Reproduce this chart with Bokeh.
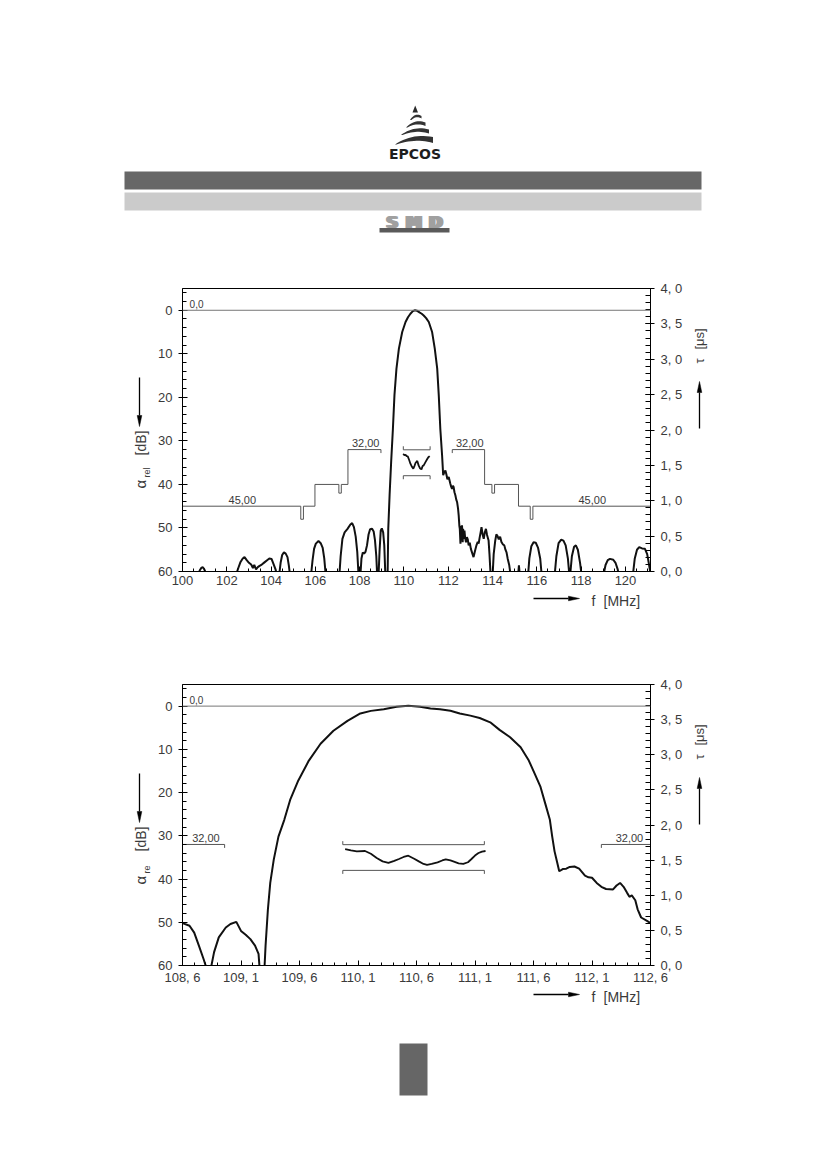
from math import pi
import numpy as np
from bokeh.plotting import figure
from bokeh.layouts import column, row
from bokeh.models import (Range1d, LinearAxis, FixedTicker, CustomJSTickFormatter,
                          Label, Span)
from bokeh.embed import file_html
from bokeh.resources import INLINE
from bokeh.core.properties import value

FONT = "Liberation Sans"
TXT = "#3a3a3a"

# ---------------- data ----------------
# wide-band attenuation (top chart), f in MHz, attenuation in dB (61 = below scale)
top_f = [100.70, 100.78, 100.86, 100.92, 100.98, 101.05, 101.12, 102.40, 102.52, 102.62,
         102.72, 102.80, 102.90, 103.00, 103.10, 103.18, 103.24, 103.32, 103.40, 103.48,
         103.58, 103.70, 103.82, 103.92, 104.02, 104.12, 104.20, 104.27, 104.36, 104.43,
         104.50, 104.58, 104.66, 104.74, 104.80, 104.86, 105.80, 105.87, 105.94, 106.02,
         106.14, 106.24, 106.33, 106.40, 106.47, 107.08, 107.14, 107.22, 107.32, 107.45,
         107.58, 107.66, 107.74, 107.82, 107.89, 107.95, 108.03, 108.08, 108.14, 108.20,
         108.26, 108.33, 108.40, 108.47, 108.56, 108.63, 108.69, 108.75, 108.79, 108.85,
         108.90, 108.95, 109.00, 109.06, 109.11, 109.16, 109.26, 109.29, 109.35, 109.42,
         109.50, 109.57, 109.66, 109.77, 109.92, 110.07, 110.18, 110.29, 110.40, 110.50,
         110.58, 110.70, 110.80, 110.89, 111.00, 111.12, 111.27, 111.39, 111.50, 111.57,
         111.64, 111.72, 111.77, 111.82, 111.87, 111.91, 111.96, 112.02, 112.09, 112.13,
         112.17, 112.21, 112.24, 112.28, 112.32, 112.36, 112.40, 112.44, 112.47, 112.50,
         112.52, 112.55, 112.58, 112.60, 112.62, 112.65, 112.67, 112.70, 112.73, 112.76,
         112.80, 112.84, 112.88, 112.92, 112.97, 113.02, 113.07, 113.14, 113.20, 113.27,
         113.33, 113.37, 113.42, 113.46, 113.50, 113.55, 113.60, 113.65, 113.70, 113.75,
         113.82, 113.86, 113.90, 113.93, 114.00, 114.05, 114.12, 114.17, 114.22, 114.28,
         114.34, 114.40, 114.47, 114.53, 114.58, 114.63, 114.68, 114.75, 114.82, 115.15,
         115.19, 115.23, 115.60, 115.66, 115.75, 115.85, 115.95, 116.05, 116.15, 116.22,
         116.80, 116.88, 116.98, 117.10, 117.20, 117.30, 117.40, 117.47, 117.50, 117.58,
         117.68, 117.76, 117.85, 117.95, 118.02, 119.00, 119.10, 119.20, 119.30, 119.45,
         119.55, 119.65, 119.70, 120.33, 120.42, 120.52, 120.62, 120.75, 120.88, 120.98,
         121.05, 121.13]
top_db = [61, 59.7, 59.1, 59.0, 59.5, 60.2, 61, 61, 59.2, 57.8,
          57.0, 56.7, 57.4, 58.0, 58.4, 59.2, 58.5, 59.5, 59.0, 58.7,
          58.4, 57.9, 57.4, 57.0, 57.1, 58.4, 59.5, 61, 61, 58.0,
          56.2, 55.6, 55.9, 56.7, 58.6, 61, 61, 57.5, 54.8, 53.6,
          53.0, 53.5, 54.6, 57.0, 61, 61, 56.5, 52.5, 51.0, 50.2,
          49.2, 48.9, 49.8, 52.0, 55.5, 61, 61, 57.0, 55.6, 55.9,
          55.5, 54.0, 51.5, 50.3, 50.2, 50.8, 52.8, 56.5, 61, 61,
          55.0, 50.6, 50.1, 51.0, 54.0, 61, 61, 50.2, 42.5, 34.9,
          27.2, 19.5, 13.4, 8.8, 5.0, 2.7, 1.6, 0.8, 0.2, 0.0,
          0.1, 0.5, 0.8, 1.2, 1.8, 2.7, 5.0, 8.8, 13.4, 19.5,
          27.2, 33.3, 37.9, 37.2, 36.8, 37.6, 38.8, 38.3, 39.8, 40.5,
          41.0, 40.3, 40.6, 41.8, 42.5, 43.5, 44.1, 45.5, 47.1, 49.5,
          50.2, 53.6, 49.5, 52.0, 49.4, 53.3, 50.2, 52.5, 50.6, 52.2,
          53.3, 52.1, 52.6, 54.0, 53.4, 54.8, 55.6, 56.7, 55.4, 54.0,
          53.2, 53.6, 52.1, 51.0, 49.8, 51.5, 52.5, 51.0, 50.2, 51.6,
          52.9, 56.0, 59.8, 61, 61, 56.0, 52.9, 51.5, 51.8, 52.6,
          52.0, 53.2, 53.8, 54.0, 55.0, 55.6, 57.0, 58.5, 61, 61,
          58.6, 61, 61, 57.0, 54.2, 53.3, 53.4, 54.5, 57.0, 61,
          61, 56.5, 53.5, 52.7, 52.9, 54.0, 57.0, 61, 61, 56.5,
          54.3, 54.0, 55.0, 58.0, 61, 61, 58.5, 57.4, 57.1, 57.3,
          58.0, 59.5, 61, 61, 57.0, 55.0, 54.4, 54.7, 54.8, 56.0,
          58.0, 60.5]

# narrow-band attenuation (bottom chart)
bot_f = [108.60, 108.66, 108.70, 108.74, 108.78, 108.81, 108.84, 108.87, 108.91, 108.97,
         109.01, 109.06, 109.10, 109.14, 109.18, 109.22, 109.25, 109.26, 109.30, 109.31,
         109.33, 109.35, 109.38, 109.42, 109.47, 109.52, 109.59, 109.68, 109.78, 109.89,
         110.01, 110.12, 110.21, 110.32, 110.43, 110.53, 110.63, 110.72, 110.80, 110.89,
         110.97, 111.06, 111.14, 111.23, 111.31, 111.40, 111.49, 111.56, 111.61, 111.66,
         111.70, 111.74, 111.76, 111.78, 111.80, 111.82, 111.85, 111.88, 111.91, 111.95,
         111.99, 112.04, 112.07, 112.10, 112.14, 112.18, 112.22, 112.28, 112.31, 112.34,
         112.37, 112.40, 112.42, 112.44, 112.47, 112.49, 112.52, 112.57, 112.60]
bot_db = [50.2, 50.8, 52.4, 55.4, 58.5, 61, 61, 56.9, 53.5, 51.2,
          50.4, 49.9, 52.0, 52.9, 53.9, 55.4, 57.3, 61, 61, 55.4,
          47.0, 40.9, 35.5, 30.2, 26.3, 21.7, 17.2, 12.6, 8.7, 5.7,
          3.4, 1.7, 1.1, 0.7, 0.16, -0.1, 0.16, 0.55, 0.7, 1.08,
          1.7, 2.2, 2.75, 3.75, 5.5, 7.2, 9.5, 12.6, 15.6, 18.7,
          22.5, 26.3, 30.2, 33.6, 35.9, 38.2, 37.7, 37.6, 37.2, 37.1,
          37.6, 39.2, 39.6, 39.7, 40.9, 41.8, 42.3, 42.4, 41.5, 40.9,
          41.8, 43.2, 44.1, 43.8, 44.9, 47.0, 48.9, 49.7, 50.2]

# group delay (right axis, microseconds)
gd_top_f = [109.96, 110.02, 110.07, 110.12, 110.17, 110.23, 110.29, 110.36, 110.42, 110.47,
            110.52, 110.60, 110.66, 110.72, 110.79, 110.84, 110.89, 110.97, 111.05, 111.10,
            111.16]
gd_top_tau = [1.660, 1.645, 1.650, 1.630, 1.627, 1.580, 1.524, 1.480, 1.453, 1.490,
              1.533, 1.563, 1.500, 1.460, 1.443, 1.490, 1.500, 1.546, 1.590, 1.615,
              1.631]
gd_bot_f = [109.99, 110.04, 110.09, 110.16, 110.21, 110.26, 110.31, 110.36, 110.41, 110.45,
            110.49, 110.53, 110.58, 110.62, 110.66, 110.69, 110.73, 110.78, 110.82, 110.85,
            110.89, 110.92, 110.96, 111.00, 111.04, 111.07, 111.10, 111.13, 111.16, 111.19]
gd_bot_tau = [1.657, 1.640, 1.624, 1.630, 1.590, 1.530, 1.482, 1.460, 1.490, 1.516,
              1.545, 1.563, 1.520, 1.482, 1.445, 1.431, 1.445, 1.468, 1.495, 1.511,
              1.495, 1.478, 1.455, 1.446, 1.470, 1.516, 1.565, 1.601, 1.622, 1.630]
gd_win_f = [109.97, 111.18]          # group-delay tolerance window
gd_win_tau = [1.354, 1.72]

# attenuation tolerance mask (dB)
mask_l_f = [99.0, 105.34, 105.34, 105.46, 105.46, 105.98, 105.98, 107.06, 107.06, 107.17,
            107.17, 107.47, 107.47, 108.96, 108.96]
mask_l_db = [45, 45, 48, 48, 45, 45, 40, 40, 42, 42, 40, 40, 32, 32, 32.8]
mask_r_f = [112.18, 112.18, 113.64, 113.64, 113.97, 113.97, 114.09, 114.09, 115.17, 115.17,
            115.70, 115.70, 115.82, 115.82, 122.0]
mask_r_db = [32.8, 32, 32, 40, 40, 42, 42, 40, 40, 45, 45, 48, 48, 45, 45]
ref_level = 0.0

# tick values / labels
top_xticks = [100, 102, 104, 106, 108, 110, 112, 114, 116, 118, 120]
top_xminor = [100 + 0.5 * i for i in range(43)]
bot_xticks = [108.6, 109.1, 109.6, 110.1, 110.6, 111.1, 111.6, 112.1, 112.6]
bot_xminor = [round(108.6 + 0.1 * i, 2) for i in range(41)]
db_ticks = [0, 10, 20, 30, 40, 50, 60]
db_minor = [-4 + 2 * i for i in range(33)]
tau_ticks = [0, 0.5, 1.0, 1.5, 2.0, 2.5, 3.0, 3.5, 4.0]
tau_minor = [round(0.1 * i, 2) for i in range(41)]

top_mask_labels = [("0,0", 100.32, -0.6, "left", 10), ("45,00", 102.7, 44.5, "center", 11),
                   ("32,00", 108.27, 31.5, "center", 11), ("32,00", 112.97, 31.5, "center", 11),
                   ("45,00", 118.5, 44.5, "center", 11)]
bot_mask_labels = [("0,0", 108.66, -0.6, "left", 10), ("32,00", 108.8, 31.5, "center", 11),
                   ("32,00", 112.42, 31.5, "center", 11)]

# ---------------- layout (page pixels) ----------------
PW = 820                 # page width used
FL, FR = 182, 650        # plot frame left / right
SL, SR = 152, 688        # split between side figures and chart figure


def blank_fig(x0, x1, y0, y1):
    f = figure(width=x1 - x0, height=y1 - y0, x_range=Range1d(x0, x1), y_range=Range1d(y1, y0),
               output_backend="svg", toolbar_location=None, min_border=0)
    f.frame_align = False
    f.title.visible = False
    f.axis.visible = False
    f.grid.visible = False
    f.outline_line_color = None
    f.background_fill_color = "white"
    f.border_fill_color = "white"
    return f


def style_axis(ax, tin, tout, minin, standoff):
    ax.axis_line_color = "black"
    ax.axis_line_width = 1
    ax.major_tick_line_color = "black"
    ax.minor_tick_line_color = "black"
    ax.major_tick_in = tin
    ax.major_tick_out = tout
    ax.minor_tick_in = minin
    ax.minor_tick_out = 0
    ax.major_label_text_font = FONT
    ax.major_label_text_font_size = "13px"
    ax.major_label_text_color = TXT
    ax.major_label_standoff = standoff


def txt(f, x, y, s, size, angle=0.0, align="left"):
    f.text(x=[x], y=[y], text=[s], angle=angle, text_align=align, text_baseline="middle",
           text_font=value(FONT), text_font_size=f"{size}px", text_color=TXT)


def arrow(f, x0, y0, x1, y1, head_len=11.0, head_w=4.6):
    if x0 == x1:
        d = 1 if y1 > y0 else -1
        hy = y1 - d * head_len
        f.segment(x0=[x0], y0=[y0], x1=[x1], y1=[hy], line_color="black", line_width=1.3)
        f.patch([x1, x1 - head_w / 2, x1 + head_w / 2], [y1, hy, hy],
                fill_color="black", line_color="black", line_width=0.5)
    else:
        d = 1 if x1 > x0 else -1
        hx = x1 - d * head_len
        f.segment(x0=[x0], y0=[y0], x1=[hx], y1=[y1], line_color="black", line_width=1.3)
        f.patch([x1, hx, hx], [y1, y1 - head_w / 2, y1 + head_w / 2],
                fill_color="black", line_color="black", line_width=0.5)


def make_block(row_top, frame_top, strip_bottom, xr, xticks, xminor, comma_x,
               att_f, att_db, gd_f, gd_tau, mask_labels, sub):
    frame_bottom = frame_top + 283
    row_bottom = frame_bottom + 20
    H = row_bottom - row_top
    p = figure(width=SR - SL, height=H, x_range=Range1d(*xr), y_range=Range1d(60, -5),
               output_backend="svg", toolbar_location=None,
               min_border_left=FL - SL, min_border_right=SR - FR,
               min_border_top=frame_top - row_top, min_border_bottom=row_bottom - frame_bottom)
    p.frame_align = False
    p.title.visible = False
    p.extra_y_ranges = {"tau": Range1d(0, 4)}
    p.grid.visible = False
    p.outline_line_color = "black"
    p.outline_line_width = 1
    p.outline_line_alpha = 1
    p.background_fill_color = "white"
    p.border_fill_color = "white"

    xa = p.xaxis[0]
    xa.ticker = FixedTicker(ticks=xticks, minor_ticks=xminor)
    if comma_x:
        xa.formatter = CustomJSTickFormatter(code="return tick.toFixed(1).replace('.', ', ');")
    style_axis(xa, 5, 0, 3, 4)

    ya = p.yaxis[0]
    ya.ticker = FixedTicker(ticks=db_ticks, minor_ticks=db_minor)
    style_axis(ya, 5, 4, 4, 6)

    ra = LinearAxis(y_range_name="tau", ticker=FixedTicker(ticks=tau_ticks, minor_ticks=tau_minor),
                    formatter=CustomJSTickFormatter(code="return tick.toFixed(1).replace('.', ', ');"))
    style_axis(ra, 5, 4, 5, 6)
    p.add_layout(ra, "right")

    # reference level and tolerance mask
    p.add_layout(Span(location=ref_level, dimension="width", line_color="#777777", line_width=1))
    p.line(mask_l_f, mask_l_db, line_color="#555555", line_width=1)
    p.line(mask_r_f, mask_r_db, line_color="#555555", line_width=1)
    for text, fx, fy, al, sz in mask_labels:
        p.add_layout(Label(x=fx, y=fy, text=text, text_align=al, text_baseline="bottom",
                           text_font=FONT, text_font_size=f"{sz}px", text_color=TXT))

    # group-delay window brackets
    hooks = [-0.05, 0.05]
    for tv, hk in zip(gd_win_tau, hooks):
        p.line([gd_win_f[0], gd_win_f[0], gd_win_f[1], gd_win_f[1]],
               [tv + hk, tv, tv, tv + hk], y_range_name="tau",
               line_color="#555555", line_width=1)
    p.line(gd_f, gd_tau, y_range_name="tau", line_color="#111111", line_width=1.8)
    p.line(att_f, att_db, line_color="#111111", line_width=2)

    # side figures with axis titles
    o = frame_top - 288
    L = blank_fig(0, SL, row_top, row_bottom)
    arrow(L, 139, 377 + o, 139, 426 + o)
    txt(L, 140, 488 + o, "α", 15, angle=pi / 2)
    txt(L, 146, 477 + o, sub, 9, angle=pi / 2)
    txt(L, 140, 455 + o, "[dB]", 14, angle=pi / 2)

    R = blank_fig(SR, PW, row_top, row_bottom)
    arrow(R, 699, 428 + o, 699, 381 + o)
    txt(R, 699, 363 + o, "τ", 13, angle=pi / 2)
    txt(R, 699, 349 + o, "[μs]", 13, angle=pi / 2)

    S = blank_fig(0, PW, row_bottom, strip_bottom)
    ty = row_bottom + 9
    arrow(S, 533, ty - 2, 579, ty - 2)
    txt(S, 593, ty, "f", 14, align="center")
    txt(S, 603, ty, "[MHz]", 14)

    return column(row(L, p, R, spacing=0), S, spacing=0)


# ---------------- header ----------------
hdr = blank_fig(0, PW, 0, 250)
hdr.quad(left=124, right=701, top=171, bottom=189, fill_color="#676767", line_color=None)
hdr.quad(left=124, right=701, top=192, bottom=210, fill_color="#cbcbcb", line_color=None)

# EPCOS logo (decorative)
hdr.patch([414.7, 412.0, 417.5], [105.0, 112.0, 112.0], fill_color="#2a2a2a", line_color=None)
bands = [(409.5, 421.0, 114.0, 118.5), (405.5, 425.0, 120.5, 126.0),
         (400.5, 428.5, 127.5, 133.5), (394.5, 432.5, 135.0, 143.0)]
t = np.linspace(0, 1, 14)
for xl, xr_, yt, yb in bands:
    tx = (1 - t) ** 2 * xl + 2 * (1 - t) * t * (xl + 0.45 * (xr_ - xl)) + t ** 2 * xr_
    ty_ = (1 - t) ** 2 * (yb + 1) + 2 * (1 - t) * t * (yt - 2.5) + t ** 2 * (yt + 1.5)
    bx = (1 - t) ** 2 * xr_ + 2 * (1 - t) * t * (xl + 0.55 * (xr_ - xl)) + t ** 2 * (xl + 1.5)
    by = (1 - t) ** 2 * (yb - 0.5) + 2 * (1 - t) * t * (yb - 0.5 * (yb - yt) - 1.5) + t ** 2 * (yb + 1)
    hdr.patch(list(tx) + list(bx), list(ty_) + list(by), fill_color="#333333", line_color=None)
hdr.text(x=[414.5], y=[153.5], text=["EPCOS"], text_font=value("DejaVu Sans"),
         text_font_style="bold", text_font_size="14px", text_align="center",
         text_baseline="middle", text_color="#1e1e1e")

# SMD logo (decorative, faux-extended letters)
hdr.quad(left=379, right=449, top=227.5, bottom=232, fill_color="#5a5a5a", line_color=None)
for dx in (0.0, 1.2, 2.4, 3.6):
    hdr.text(x=[390 + dx, 411.5 + dx, 433.5 + dx], y=[221.5] * 3, text=["S", "M", "D"],
             text_font=value("DejaVu Sans"), text_font_style="bold", text_font_size="16px",
             text_align="center", text_baseline="middle", text_color="#a0a0a0")

# ---------------- charts ----------------
b1 = make_block(250, 288, 640, (100, 121.13), top_xticks, top_xminor, False,
                top_f, top_db, gd_top_f, gd_top_tau, top_mask_labels, "rel")
b2 = make_block(640, 684, 1030, (108.6, 112.6), bot_xticks, bot_xminor, True,
                bot_f, bot_db, gd_bot_f, gd_bot_tau, bot_mask_labels, "re")

# ---------------- footer ----------------
ftr = blank_fig(0, PW, 1030, 1130)
ftr.quad(left=399, right=427, top=1043, bottom=1095, fill_color="#666666", line_color=None)

page = column(hdr, b1, b2, ftr, spacing=0)
open("out.html", "w").write(file_html(page, INLINE))
